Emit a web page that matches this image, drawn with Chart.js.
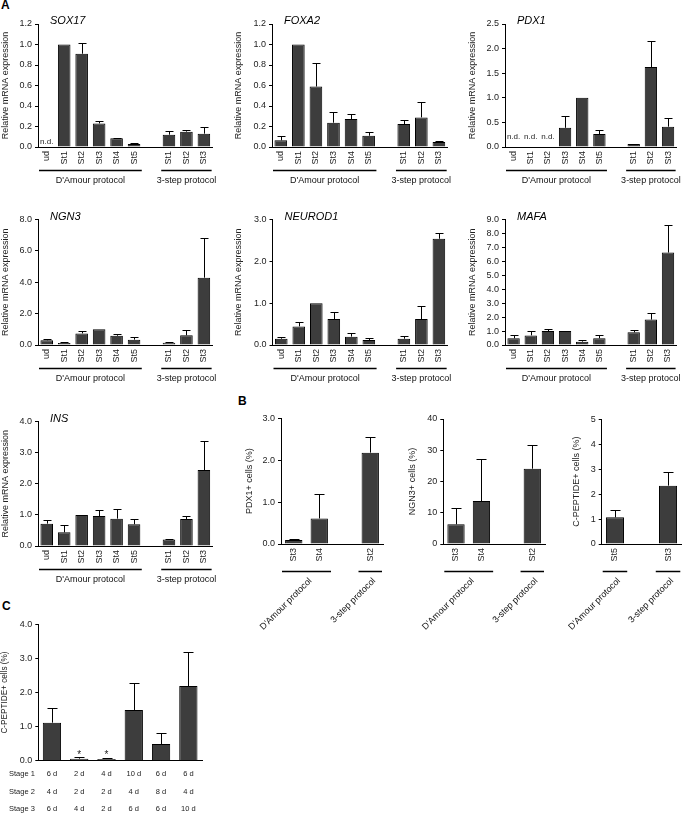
<!DOCTYPE html>
<html>
<head>
<meta charset="utf-8">
<script src="https://cdn.jsdelivr.net/npm/chart.js@4.4.0/dist/chart.umd.min.js"></script>
<style>
  body { margin: 0; background: #fff; width: 683px; height: 819px; position: relative; overflow: hidden; font-family: "Liberation Sans", Arial, sans-serif; }
  canvas { position: absolute; }
  .tag { position: absolute; font-weight: bold; font-size: 12px; color: #000; }
</style>
</head>
<body>
<div class="tag" style="left:1px;top:-2px">A</div>
<div class="tag" style="left:238px;top:394px">B</div>
<div class="tag" style="left:2px;top:599px">C</div>

<canvas id="sox17"></canvas>
<canvas id="foxa2"></canvas>
<canvas id="pdx1"></canvas>
<canvas id="ngn3"></canvas>
<canvas id="neurod1"></canvas>
<canvas id="mafa"></canvas>
<canvas id="ins"></canvas>
<canvas id="pdx1Cells"></canvas>
<canvas id="ngn3Cells"></canvas>
<canvas id="cpepCells"></canvas>
<canvas id="cpepStages"></canvas>

<script>
// stages, one blank slot between the two protocols
const stages = ['ud', 'St1', 'St2', 'St3', 'St4', 'St5', '', 'St1', 'St2', 'St3'];

// panel A, relative mRNA expression (null = n.d.)
const sox17 = [null, 1.0, 0.91, 0.23, 0.085, 0.03, null, 0.12, 0.15, 0.13];
const sox17Sd = [0, 0, 0.10, 0.025, 0.006, 0.01, 0, 0.035, 0.02, 0.065];
const foxa2 = [0.065, 1.0, 0.59, 0.237, 0.273, 0.11, null, 0.224, 0.289, 0.049];
const foxa2Sd = [0.045, 0, 0.226, 0.10, 0.052, 0.04, 0, 0.04, 0.147, 0.006];
const pdx1 = [null, null, null, 0.39, 1.0, 0.264, null, 0.06, 1.626, 0.413];
const pdx1Sd = [0, 0, 0, 0.25, 0, 0.075, 0, 0.005, 0.528, 0.17];
const ngn3 = [0.3, 0.127, 0.74, 1.0, 0.59, 0.34, null, 0.15, 0.62, 4.29];
const ngn3Sd = [0.1, 0.04, 0.17, 0, 0.09, 0.19, 0, 0.06, 0.36, 2.55];
const neurod1 = [0.15, 0.445, 1.0, 0.62, 0.2, 0.12, null, 0.15, 0.62, 2.54];
const neurod1Sd = [0.03, 0.105, 0, 0.16, 0.09, 0.04, 0, 0.07, 0.32, 0.14];
const mafa = [0.48, 0.69, 1.0, 1.0, 0.24, 0.48, null, 0.91, 1.82, 6.63];
const mafaSd = [0.26, 0.29, 0.17, 0, 0.12, 0.21, 0, 0.19, 0.45, 1.96];
const ins = [0.72, 0.44, 1.0, 0.965, 0.88, 0.70, null, 0.21, 0.87, 2.445];
const insSd = [0.11, 0.22, 0, 0.185, 0.31, 0.17, 0, 0.025, 0.106, 0.935];

// panel B, % positive cells
const pdx1Stages = ['St3', 'St4', '', 'St2'];
const pdx1Cells = [0.095, 0.61, null, 2.18];
const pdx1CellsSd = [0.032, 0.58, 0, 0.37];
const ngn3Cells = [6.3, 13.76, null, 24.1];
const ngn3CellsSd = [5.1, 13.3, 0, 7.5];
const cpepStages = ['St5', '', 'St3'];
const cpepCells = [1.07, null, 2.34];
const cpepCellsSd = [0.28, 0, 0.56];

// panel C, days per stage
const stage1Days = ['6 d', '2 d', '4 d', '10 d', '6 d', '6 d'];
const stage2Days = ['4 d', '2 d', '2 d', '4 d', '8 d', '4 d'];
const stage3Days = ['6 d', '4 d', '2 d', '6 d', '6 d', '10 d'];
const cpepByTiming = [1.115, 0.06, 0.05, 1.487, 0.49, 2.19];
const cpepByTimingSd = [0.42, 0.04, 0.04, 0.79, 0.31, 1.01];

const protocolGroups = [
  { label: "D'Amour protocol", from: 0, to: 5 },
  { label: '3-step protocol', from: 7, to: 9 }
];

const FONT = '"Liberation Sans", Arial, sans-serif';
Chart.defaults.font.family = FONT;
Chart.defaults.font.size = 9;
Chart.defaults.color = '#222';

// error bars, n.d., gene names, protocol lines, stage table
const extras = {
  id: 'extras',
  afterDraw(chart, args, o) {
    const { ctx, chartArea: a } = chart;
    const xs = chart.scales.x, ys = chart.scales.y;
    const vals = chart.data.datasets[0].data;
    const half = (xs.getPixelForValue(1) - xs.getPixelForValue(0)) / 2;
    ctx.save();
    ctx.strokeStyle = '#000';
    ctx.lineWidth = 1;
    vals.forEach((v, i) => {
      const e = o.sd[i];
      if (v == null || !e) return;
      const px = Math.round(xs.getPixelForValue(i)) + 0.5;
      const top = Math.round(ys.getPixelForValue(v + e)) + 0.5;
      ctx.beginPath();
      ctx.moveTo(px, ys.getPixelForValue(v));
      ctx.lineTo(px, top);
      ctx.moveTo(px - o.cap, top);
      ctx.lineTo(px + o.cap, top);
      ctx.stroke();
    });

    ctx.fillStyle = '#222';
    ctx.font = '8px ' + FONT;
    ctx.textAlign = 'center';
    ctx.textBaseline = 'bottom';
    (o.nd || []).forEach(i => ctx.fillText('n.d.', xs.getPixelForValue(i), a.bottom - o.ndLift));
    (o.star || []).forEach(i => {
      ctx.font = '10px ' + FONT;
      ctx.fillText('*', xs.getPixelForValue(i), ys.getPixelForValue(vals[i] + o.sd[i]) + 3);
    });

    if (o.gene) {
      ctx.fillStyle = '#000';
      ctx.font = 'italic 11px ' + FONT;
      ctx.textAlign = 'left';
      ctx.textBaseline = 'middle';
      ctx.fillText(o.gene, a.left + 12, a.top - 3);
    }

    (o.groups || []).forEach(g => {
      const x0 = xs.getPixelForValue(g.from) - half + 1;
      const x1 = xs.getPixelForValue(g.to) + half - 1;
      const ly = Math.round(a.bottom + o.lineGap) + 0.5;
      ctx.strokeStyle = '#000';
      ctx.lineWidth = 1.5;
      ctx.beginPath();
      ctx.moveTo(x0, ly);
      ctx.lineTo(x1, ly);
      ctx.stroke();
      ctx.fillStyle = '#111';
      ctx.font = '9px ' + FONT;
      if (o.tilt) {
        ctx.save();
        ctx.translate((x0 + x1) / 2 + 4, ly + 8);
        ctx.rotate(-Math.PI / 4);
        ctx.textAlign = 'right';
        ctx.textBaseline = 'middle';
        ctx.fillText(g.label, 0, 0);
        ctx.restore();
      } else {
        ctx.textAlign = 'center';
        ctx.textBaseline = 'middle';
        ctx.fillText(g.label, (x0 + x1) / 2, a.bottom + o.textGap);
      }
    });

    if (o.table) {
      ctx.fillStyle = '#222';
      ctx.font = '7.5px ' + FONT;
      ctx.textBaseline = 'middle';
      o.table.rows.forEach((row, r) => {
        const ty = a.bottom + 13.5 + r * 17.5;
        ctx.textAlign = 'left';
        ctx.fillText(o.table.names[r], 9, ty);
        ctx.textAlign = 'center';
        row.forEach((t, i) => ctx.fillText(t, xs.getPixelForValue(i), ty));
      });
    }
    ctx.restore();
  }
};

// box: canvas position/size and the wanted plot area in page pixels
function panel(id, box, labels, values, yMax, step, dec, yTitle, extra) {
  const cv = document.getElementById(id);
  cv.style.left = box.cx + 'px';
  cv.style.top = box.cy + 'px';
  cv.width = box.cw;
  cv.height = box.ch;
  return new Chart(cv, {
    type: 'bar',
    data: {
      labels: labels,
      datasets: [{
        data: values,
        backgroundColor: '#3d3d3d',
        borderColor: '#000',
        borderWidth: 1,
        barPercentage: box.bar || 0.72,
        categoryPercentage: 1
      }]
    },
    plugins: [extras],
    options: {
      responsive: false,
      animation: false,
      layout: { padding: { top: box.T - box.cy, right: box.cx + box.cw - box.R, left: 0, bottom: 0 } },
      plugins: {
        legend: { display: false },
        tooltip: { enabled: false },
        extras: Object.assign({ cap: 4, ndLift: 1, lineGap: 23, textGap: 34 }, extra)
      },
      scales: {
        x: {
          grid: { display: false, drawTicks: false },
          border: { display: true, color: '#000', width: 1 },
          ticks: { display: !extra.table, minRotation: 90, maxRotation: 90, padding: 4, autoSkip: false },
          afterFit: s => { s.height = box.cy + box.ch - box.B; }
        },
        y: {
          min: 0,
          max: yMax,
          grid: { drawOnChartArea: false, drawTicks: true, tickLength: 3, color: '#000' },
          border: { display: true, color: '#000', width: 1 },
          ticks: { stepSize: step, padding: 3, callback: v => v.toFixed(dec) },
          title: { display: true, text: yTitle, padding: { top: box.tp || 0, bottom: 0 }, font: { size: box.ts || 9 } },
          afterFit: s => { s.width = box.L - box.cx; }
        }
      }
    }
  });
}

const rmna = 'Relative mRNA expression';
const r1 = { cy: 0, ch: 192, T: 24, B: 147 };
const r2 = { cy: 195, ch: 195, T: 219.5, B: 345 };
const r3 = { cy: 395, ch: 197, T: 421.7, B: 546 };

panel('sox17', Object.assign({ cx: 0, cw: 219, L: 38, R: 213 }, r1), stages, sox17, 1.2, 0.2, 1, rmna,
  { sd: sox17Sd, gene: 'SOX17', nd: [0], groups: protocolGroups });
panel('foxa2', Object.assign({ cx: 233, cw: 221, L: 272, R: 448 }, r1), stages, foxa2, 1.2, 0.2, 1, rmna,
  { sd: foxa2Sd, gene: 'FOXA2', groups: protocolGroups });
panel('pdx1', Object.assign({ cx: 467, cw: 216, L: 505, R: 680 }, r1), stages, pdx1, 2.5, 0.5, 1, rmna,
  { sd: pdx1Sd, gene: 'PDX1', nd: [0, 1, 2], ndLift: 6, groups: protocolGroups });

panel('ngn3', Object.assign({ cx: 0, cw: 219, L: 38, R: 213 }, r2), stages, ngn3, 8, 2, 1, rmna,
  { sd: ngn3Sd, gene: 'NGN3', groups: protocolGroups });
panel('neurod1', Object.assign({ cx: 233, cw: 221, L: 272.5, R: 448 }, r2), stages, neurod1, 3, 1, 1, rmna,
  { sd: neurod1Sd, gene: 'NEUROD1', groups: protocolGroups });
panel('mafa', Object.assign({ cx: 467, cw: 216, L: 505, R: 679 }, r2), stages, mafa, 9, 1, 1, rmna,
  { sd: mafaSd, gene: 'MAFA', groups: protocolGroups });

panel('ins', Object.assign({ cx: 0, cw: 219, L: 38, R: 213 }, r3), stages, ins, 4, 1, 1, rmna,
  { sd: insSd, gene: 'INS', groups: protocolGroups });

const rb = { cy: 395, ch: 240, B: 544, bar: 0.68 };
panel('pdx1Cells', Object.assign({ cx: 244, cw: 145, L: 281, R: 383, T: 418.3 }, rb), pdx1Stages, pdx1Cells, 3, 1, 1, 'PDX1+ cells (%)',
  { sd: pdx1CellsSd, cap: 5, tilt: true, lineGap: 27,
    groups: [{ label: "D'Amour protocol", from: 0, to: 1 }, { label: '3-step protocol', from: 3, to: 3 }] });
panel('ngn3Cells', Object.assign({ cx: 407, cw: 144, L: 443.3, R: 545, T: 419 }, rb), pdx1Stages, ngn3Cells, 40, 10, 0, 'NGN3+ cells (%)',
  { sd: ngn3CellsSd, cap: 5, tilt: true, lineGap: 27,
    groups: [{ label: "D'Amour protocol", from: 0, to: 1 }, { label: '3-step protocol', from: 3, to: 3 }] });
panel('cpepCells', Object.assign({ cx: 556, cw: 127, L: 601.7, R: 682, T: 419.3, tp: 15.5 }, rb), cpepStages, cpepCells, 5, 1, 0, 'C-PEPTIDE+ cells (%)',
  { sd: cpepCellsSd, cap: 5, tilt: true, lineGap: 27,
    groups: [{ label: "D'Amour protocol", from: 0, to: 0 }, { label: '3-step protocol', from: 2, to: 2 }] });

panel('cpepStages', { cx: 0, cy: 600, cw: 208, ch: 219, L: 38.3, R: 202, T: 624.3, B: 760.7, bar: 0.67, ts: 8.2 },
  ['', '', '', '', '', ''], cpepByTiming, 4, 1, 1, 'C-PEPTIDE+ cells (%)',
  { sd: cpepByTimingSd, cap: 5, star: [1, 2],
    table: { names: ['Stage 1', 'Stage 2', 'Stage 3'], rows: [stage1Days, stage2Days, stage3Days] } });
</script>
</body>
</html>
